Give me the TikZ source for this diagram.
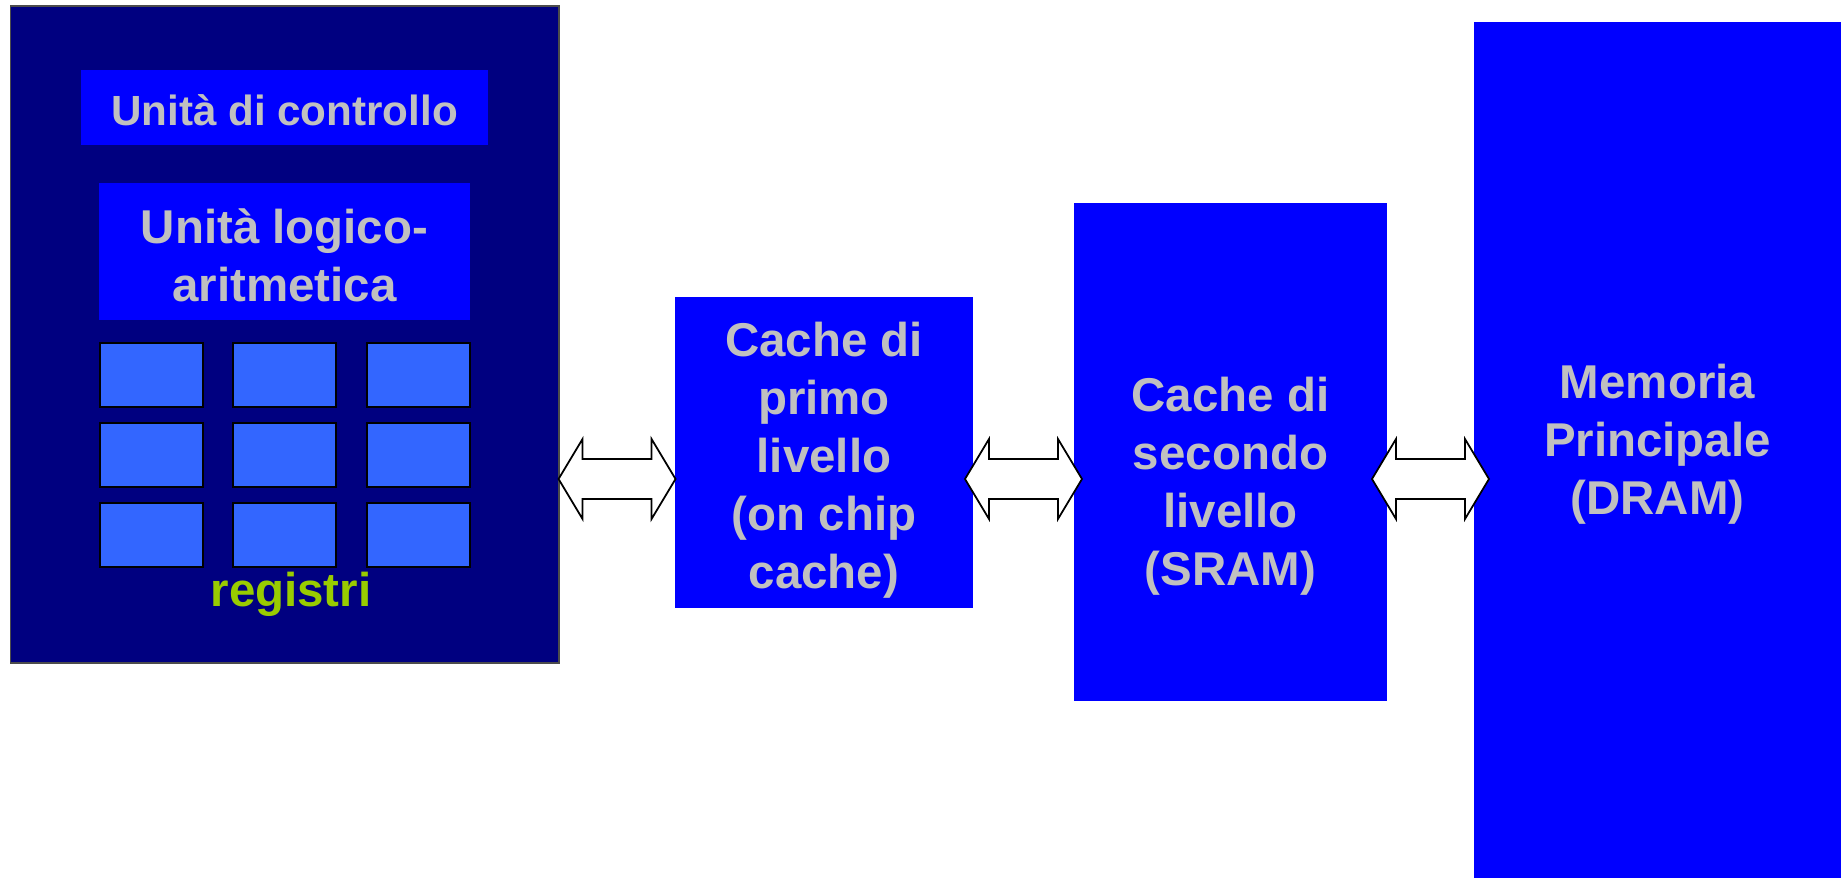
\documentclass[tikz,border=0pt]{standalone}
\usepackage{fontspec}
\setmainfont{Liberation Sans}
\usetikzlibrary{calc}
\definecolor{navy}{HTML}{000080}
\definecolor{pureblue}{HTML}{0000FF}
\definecolor{regblue}{HTML}{3366FF}
\definecolor{silvertext}{HTML}{C0C0C0}
\definecolor{limetext}{HTML}{99CC00}
\tikzstyle{cpu}=[rectangle,draw=black!70,fill=navy,line width=0.4pt]
\tikzstyle{unit}=[rectangle,fill=pureblue,text=silvertext,font=\bfseries\fontsize{13.5}{16.5}\selectfont,align=center,inner sep=0pt]
\tikzstyle{reg}=[rectangle,draw=black,fill=regblue,line width=0.6pt,minimum width=1.03cm,minimum height=0.64cm]
\tikzstyle{txt}=[text=silvertext,font=\bfseries\fontsize{13.5}{16.5}\selectfont,align=center]
\tikzstyle{tag}=[text=limetext,font=\bfseries\fontsize{13.5}{16.5}\selectfont]
\tikzstyle{biarrow}=[draw=black,fill=white,line width=0.5pt,line join=miter]
\newcommand{\biarrow}[2]{%
  \coordinate (m#1) at ($(#1.east)!0.5!(#2.west)$);
  \draw[biarrow] (m#1 |- 0,-4.79) +(-0.585,0) -- +(-0.345,0.40) -- +(-0.345,0.20)
    -- +(0.345,0.20) -- +(0.345,0.40) -- +(0.585,0) -- +(0.345,-0.40)
    -- +(0.345,-0.20) -- +(-0.345,-0.20) -- +(-0.345,-0.40) -- cycle;}

\begin{document}
\begin{tikzpicture}
  \useasboundingbox (0,0) rectangle (18.41,-8.78);
  \node[cpu,minimum width=5.483cm,minimum height=6.57cm] (cpu) at (2.849,-3.345) {};
  \node[unit,minimum width=4.07cm,minimum height=0.75cm,font=\bfseries\fontsize{12}{14.5}\selectfont] (cu) at (2.845,-1.075) {};
  \node[txt,font=\bfseries\fontsize{12}{14.5}\selectfont] (cutext) at ([yshift=-0.025cm]cu.center) {Unità di controllo};
  \node[unit,minimum width=3.71cm,minimum height=1.37cm] (alu) at (2.845,-2.515) {};
  \node[txt] (alutext) at ([yshift=-0.035cm]alu.center) {Unità logico-\\aritmetica};
  \foreach \row in {0,1,2}
    \foreach \col in {0,1,2}
      \node[reg] (r\row\col) at (1.515+1.333*\col,-3.75-0.8*\row) {};
  \node[tag] (regs) at (2.91,-5.94) {registri};

  \node[unit,minimum width=2.98cm,minimum height=3.11cm] (l1) at (8.24,-4.525) {};
  \node[txt] (l1text) at ([yshift=-0.075cm]l1.center) {Cache di\\primo\\livello\\(on chip\\cache)};
  \node[unit,minimum width=3.13cm,minimum height=4.98cm] (l2) at (12.305,-4.52) {};
  \node[txt] (l2text) at ([yshift=-0.345cm]l2.center) {Cache di\\secondo\\livello\\(SRAM)};
  \node[unit,minimum width=3.67cm,minimum height=8.56cm] (mem) at (16.575,-4.5) {};
  \node[txt] (memtext) at ([yshift=0.055cm]mem.center) {Memoria\\Principale\\(DRAM)};

  \biarrow{cpu}{l1}
  \biarrow{l1}{l2}
  \biarrow{l2}{mem}
\end{tikzpicture}
\end{document}
